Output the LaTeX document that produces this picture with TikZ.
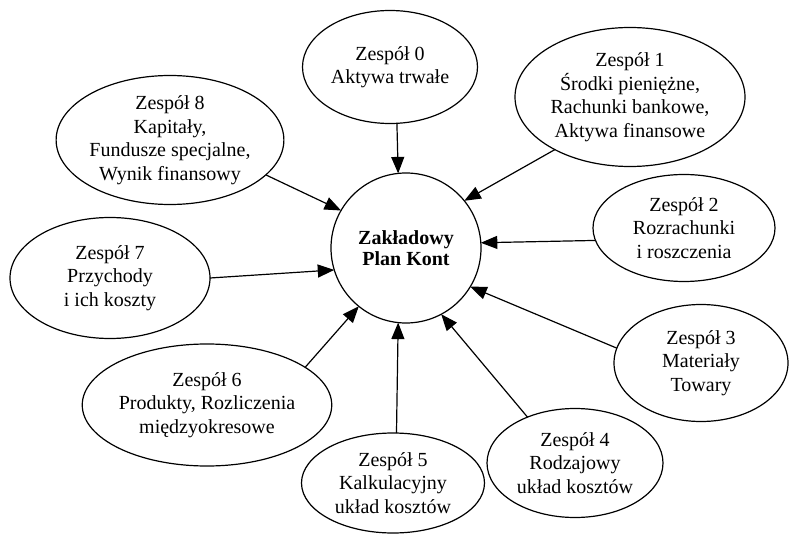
\documentclass[tikz,border=0pt]{standalone}
\usepackage{fontspec}
\setmainfont{Liberation Serif}
\usetikzlibrary{arrows.meta,shapes.geometric}
\begin{document}
\begin{tikzpicture}[x=1bp,y=-1bp,
  group/.style={draw,ellipse,line width=1.2bp,inner sep=0pt,outer sep=0pt,
    align=center,font=\fontsize{20bp}{23.5bp}\selectfont},
  hub/.style={draw,circle,line width=1.2bp,inner sep=0pt,outer sep=0pt,
    minimum size=150bp,align=center,font=\fontsize{20bp}{21bp}\selectfont\bfseries},
  arr/.style={line width=1.2bp,-{Triangle[length=16.5bp,width=13bp]}}]
\useasboundingbox (0,0) rectangle (790,536);

% central chart of accounts
\node[hub] (c) at (406,248) {Zakładowy\\Plan Kont};

% account groups 0-8
\node[group,minimum width=175bp,minimum height=113bp] (e0) at (390,67)
  {Zespół 0\\Aktywa trwałe};
\node[group,minimum width=230bp,minimum height=139bp] (e1) at (630,97)
  {Zespół 1\\Środki pieniężne,\\Rachunki bankowe,\\Aktywa finansowe};
\node[group,minimum width=182bp,minimum height=107bp] (e2) at (684,228)
  {Zespół 2\\Rozrachunki\\i roszczenia};
\node[group,minimum width=174bp,minimum height=117bp] (e3) at (701,363)
  {Zespół 3\\Materiały\\Towary};
\node[group,minimum width=176bp,minimum height=109bp] (e4) at (575,463)
  {Zespół 4\\Rodzajowy\\układ kosztów};
\node[group,minimum width=183bp,minimum height=100bp] (e5) at (393,483)
  {Zespół 5\\Kalkulacyjny\\układ kosztów};
\node[group,minimum width=200bp,minimum height=122bp] (e6) at (207,405)
  {Zespół 6\\Produkty, Rozliczenia\\międzyokresowe};
\node[group,minimum width=200bp,minimum height=121bp] (e7) at (110,278)
  {Zespół 7\\Przychody\\i ich koszty};
\node[group,minimum width=219bp,minimum height=129bp] (e8) at (170,140)
  {Zespół 8\\Kapitały,\\Fundusze specjalne,\\Wynik finansowy};

% connectors into the hub
\draw[arr] (e0.-83)   -- (c.96.8);
\draw[arr] (e1.215.2) -- (c.39.3);
\draw[arr] (e2.188.7) -- (c.4.6);
\draw[arr] (e3.170.8) -- (c.-31.8);
\draw[arr] (e4.136.2) -- (c.-62.7);
\draw[arr] (e5.86)    -- (c.-96.8);
\draw[arr] (e6.21.6)  -- (c.231.3);
\draw[arr] (e7.0)     -- (c.197.5);
\draw[arr] (e8.-20)   -- (c.150.1);
\end{tikzpicture}
\end{document}
